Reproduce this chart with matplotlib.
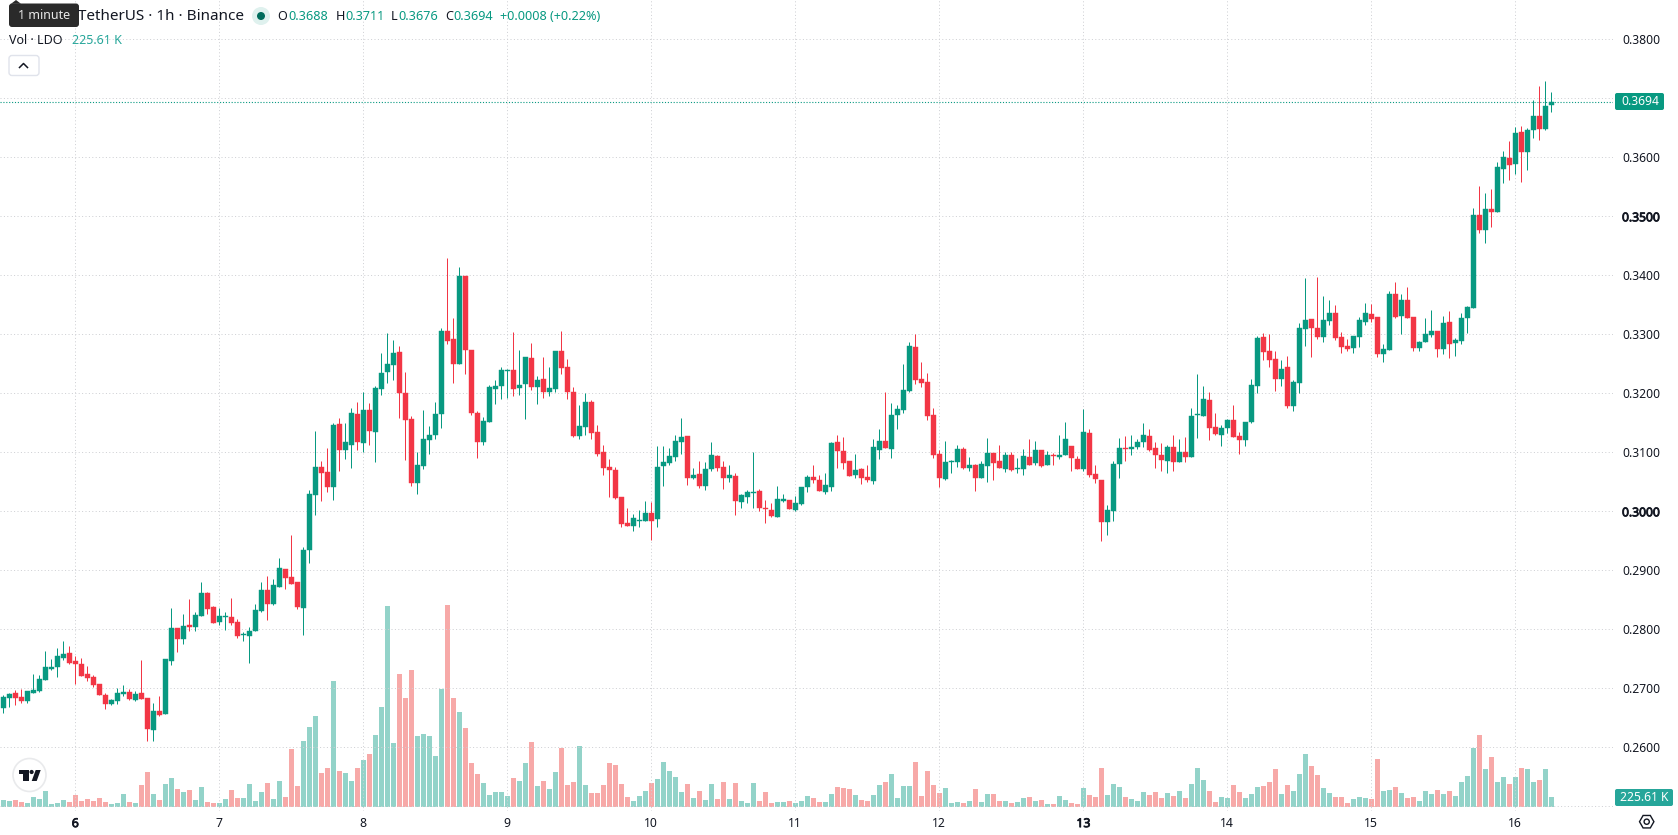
import matplotlib
matplotlib.use('Agg')
import matplotlib.pyplot as plt
import matplotlib.patheffects as pe
import numpy as np
from matplotlib.patches import Circle, FancyBboxPatch, Polygon, RegularPolygon

plt.rcParams['font.family'] = ['Noto Sans', 'DejaVu Sans']

# Hourly LDO/USDT candles, prices in ticks of 0.0001
open_ticks = [
    2667, 2684, 2692, 2685, 2679, 2692, 2695, 2714, 2733, 2736,
    2751, 2760, 2746, 2741, 2724, 2719, 2707, 2689, 2673, 2679,
    2690, 2694, 2680, 2692, 2684, 2629, 2662, 2657, 2746, 2802,
    2784, 2807, 2804, 2823, 2862, 2838, 2812, 2821, 2821, 2812,
    2790, 2789, 2797, 2831, 2867, 2843, 2872, 2902, 2889, 2880,
    2836, 2934, 3028, 3075, 3067, 3041, 3148, 3104, 3112, 3165,
    3116, 3172, 3134, 3207, 3236, 3248, 3270, 3201, 3157, 3048,
    3077, 3121, 3129, 3165, 3306, 3292, 3250, 3399, 3273, 3167,
    3118, 3151, 3207, 3212, 3238, 3240, 3209, 3216, 3260, 3211,
    3224, 3202, 3207, 3272, 3245, 3202, 3128, 3143, 3185, 3134,
    3101, 3075, 3070, 3024, 2980, 2975, 2984, 2984, 2997, 2987,
    3077, 3082, 3092, 3118, 3128, 3057, 3063, 3043, 3072, 3094,
    3075, 3057, 3060, 3016, 3024, 3031, 3035, 3006, 3002, 2990,
    3018, 3019, 3002, 3012, 3041, 3058, 3053, 3033, 3041, 3118,
    3102, 3085, 3062, 3072, 3058, 3051, 3104, 3119, 3106, 3163,
    3172, 3204, 3279, 3224, 3219, 3163, 3097, 3055, 3084, 3084,
    3106, 3073, 3079, 3057, 3077, 3099, 3085, 3072, 3095, 3072,
    3072, 3092, 3082, 3104, 3079, 3095, 3092, 3095, 3111, 3089,
    3072, 3133, 3063, 3053, 2982, 3001, 3080, 3107, 3106, 3109,
    3118, 3128, 3107, 3095, 3085, 3109, 3084, 3101, 3092, 3163,
    3162, 3189, 3143, 3129, 3141, 3155, 3128, 3121, 3151, 3212,
    3295, 3272, 3258, 3224, 3245, 3179, 3218, 3309, 3326, 3311,
    3295, 3323, 3336, 3295, 3280, 3277, 3295, 3321, 3334, 3329,
    3267, 3273, 3368, 3331, 3358, 3329, 3277, 3287, 3299, 3306,
    3275, 3321, 3285, 3289, 3328, 3345, 3502, 3477, 3512, 3507,
    3580, 3599, 3589, 3643, 3609, 3646, 3670, 3648, 3688,
]
high_ticks = [
    2689, 2692, 2697, 2699, 2695, 2724, 2723, 2763, 2750, 2768,
    2780, 2772, 2755, 2751, 2738, 2723, 2707, 2692, 2682, 2701,
    2706, 2699, 2695, 2748, 2684, 2675, 2687, 2750, 2836, 2802,
    2826, 2851, 2829, 2880, 2863, 2840, 2836, 2829, 2853, 2818,
    2796, 2804, 2843, 2880, 2890, 2885, 2921, 2902, 2960, 2880,
    2940, 3036, 3136, 3085, 3107, 3150, 3158, 3150, 3175, 3185,
    3202, 3184, 3212, 3268, 3302, 3290, 3280, 3236, 3162, 3101,
    3172, 3145, 3185, 3311, 3429, 3328, 3414, 3399, 3273, 3170,
    3160, 3214, 3223, 3245, 3242, 3304, 3273, 3262, 3285, 3229,
    3262, 3245, 3272, 3306, 3258, 3211, 3180, 3201, 3189, 3146,
    3112, 3089, 3075, 3024, 3006, 2996, 3002, 3018, 3016, 3111,
    3111, 3107, 3129, 3158, 3128, 3073, 3085, 3084, 3118, 3095,
    3085, 3079, 3065, 3029, 3036, 3101, 3038, 3019, 3014, 3043,
    3029, 3019, 3026, 3041, 3062, 3079, 3062, 3065, 3118, 3129,
    3126, 3085, 3097, 3073, 3079, 3123, 3140, 3202, 3184, 3180,
    3250, 3287, 3301, 3253, 3234, 3175, 3104, 3119, 3087, 3112,
    3109, 3092, 3080, 3085, 3124, 3099, 3112, 3101, 3101, 3090,
    3106, 3123, 3119, 3104, 3102, 3099, 3129, 3151, 3111, 3094,
    3173, 3140, 3079, 3053, 3011, 3085, 3124, 3128, 3129, 3123,
    3150, 3140, 3118, 3116, 3112, 3129, 3123, 3126, 3175, 3233,
    3212, 3202, 3167, 3146, 3156, 3180, 3134, 3151, 3224, 3297,
    3302, 3301, 3272, 3257, 3263, 3223, 3319, 3396, 3326, 3397,
    3365, 3358, 3350, 3304, 3292, 3297, 3329, 3353, 3351, 3329,
    3284, 3373, 3389, 3368, 3380, 3329, 3289, 3328, 3341, 3306,
    3331, 3340, 3294, 3336, 3348, 3514, 3551, 3540, 3546, 3592,
    3611, 3628, 3651, 3653, 3650, 3697, 3721, 3729, 3711,
]
low_ticks = [
    2658, 2668, 2672, 2675, 2675, 2692, 2694, 2714, 2731, 2719,
    2748, 2741, 2707, 2721, 2712, 2702, 2689, 2665, 2672, 2673,
    2687, 2680, 2679, 2682, 2611, 2611, 2653, 2657, 2740, 2762,
    2775, 2797, 2797, 2823, 2826, 2811, 2807, 2799, 2807, 2785,
    2780, 2743, 2797, 2829, 2816, 2841, 2872, 2868, 2877, 2834,
    2790, 2912, 2994, 3018, 3033, 3019, 3068, 3089, 3073, 3104,
    3101, 3112, 3084, 3197, 3218, 3223, 3158, 3087, 3043, 3029,
    3072, 3097, 3123, 3141, 3284, 3218, 3250, 3233, 3163, 3090,
    3112, 3151, 3182, 3190, 3192, 3195, 3197, 3157, 3206, 3182,
    3192, 3195, 3202, 3233, 3190, 3126, 3123, 3129, 3123, 3094,
    3062, 3024, 3021, 2973, 2975, 2967, 2973, 2984, 2951, 2973,
    3043, 3079, 3085, 3097, 3045, 3055, 3040, 3036, 3068, 3068,
    3038, 3050, 2994, 3006, 3014, 3006, 3001, 2980, 2990, 2990,
    3016, 3004, 3001, 3011, 3033, 3048, 3034, 3029, 3034, 3073,
    3072, 3060, 3057, 3046, 3050, 3046, 3089, 3107, 3090, 3140,
    3167, 3202, 3216, 3211, 3155, 3090, 3041, 3053, 3065, 3075,
    3072, 3068, 3034, 3057, 3050, 3053, 3073, 3067, 3068, 3065,
    3062, 3079, 3079, 3075, 3079, 3079, 3089, 3095, 3068, 3072,
    3068, 3058, 3048, 2950, 2960, 2984, 3057, 3085, 3095, 3106,
    3109, 3102, 3073, 3068, 3065, 3068, 3084, 3084, 3092, 3124,
    3162, 3121, 3129, 3111, 3133, 3126, 3097, 3111, 3150, 3201,
    3257, 3245, 3204, 3212, 3175, 3170, 3201, 3280, 3262, 3292,
    3287, 3316, 3290, 3268, 3272, 3268, 3279, 3316, 3321, 3262,
    3253, 3273, 3328, 3301, 3328, 3272, 3272, 3287, 3295, 3262,
    3267, 3260, 3263, 3284, 3302, 3345, 3472, 3455, 3482, 3507,
    3557, 3562, 3572, 3558, 3579, 3633, 3629, 3646, 3676,
]
close_ticks = [
    2685, 2690, 2684, 2679, 2695, 2697, 2716, 2736, 2736, 2755,
    2758, 2743, 2741, 2721, 2718, 2706, 2689, 2673, 2680, 2692,
    2694, 2682, 2690, 2682, 2631, 2662, 2655, 2750, 2802, 2784,
    2806, 2804, 2824, 2862, 2834, 2811, 2823, 2822, 2811, 2789,
    2792, 2797, 2833, 2867, 2843, 2875, 2904, 2887, 2877, 2838,
    2934, 3029, 3075, 3065, 3041, 3146, 3104, 3118, 3167, 3118,
    3172, 3136, 3209, 3234, 3250, 3268, 3201, 3155, 3048, 3079,
    3123, 3129, 3165, 3306, 3289, 3250, 3399, 3273, 3167, 3118,
    3153, 3211, 3212, 3240, 3240, 3207, 3214, 3262, 3211, 3223,
    3202, 3209, 3272, 3243, 3202, 3128, 3145, 3185, 3133, 3097,
    3073, 3070, 3023, 2979, 2975, 2989, 2985, 2997, 2984, 3075,
    3084, 3094, 3119, 3126, 3057, 3062, 3043, 3072, 3095, 3073,
    3057, 3062, 3018, 3028, 3033, 3033, 3006, 3004, 2992, 3021,
    3021, 3004, 3014, 3041, 3058, 3053, 3034, 3045, 3116, 3102,
    3082, 3060, 3070, 3057, 3053, 3109, 3119, 3107, 3163, 3173,
    3206, 3280, 3223, 3218, 3162, 3095, 3057, 3084, 3085, 3106,
    3073, 3079, 3057, 3080, 3099, 3082, 3073, 3095, 3070, 3073,
    3094, 3079, 3104, 3077, 3095, 3094, 3095, 3123, 3090, 3072,
    3134, 3062, 3055, 2982, 3002, 3080, 3107, 3106, 3109, 3118,
    3129, 3104, 3095, 3087, 3109, 3084, 3101, 3092, 3162, 3165,
    3190, 3141, 3131, 3141, 3155, 3126, 3121, 3151, 3214, 3294,
    3270, 3257, 3224, 3241, 3179, 3219, 3311, 3324, 3311, 3295,
    3324, 3336, 3294, 3279, 3275, 3297, 3324, 3336, 3326, 3267,
    3275, 3368, 3329, 3358, 3328, 3277, 3287, 3301, 3306, 3275,
    3319, 3284, 3290, 3328, 3346, 3502, 3477, 3512, 3507, 3584,
    3601, 3587, 3641, 3609, 3646, 3670, 3648, 3687, 3694,
]
# Volume in thousands of LDO
volume_k = [
    150, 128, 150, 105, 83, 218, 173, 353, 60, 83,
    150, 105, 263, 128, 173, 128, 196, 105, 60, 83,
    286, 105, 83, 489, 782, 286, 150, 511, 647, 399,
    331, 376, 150, 444, 105, 83, 83, 173, 376, 196,
    196, 511, 128, 331, 534, 173, 579, 218, 1301, 466,
    1481, 1797, 2045, 760, 872, 2835, 805, 760, 579, 872,
    1053, 1188, 1617, 2248, 4527, 1436, 2993, 2452, 3083, 1594,
    1639, 1594, 1143, 2655, 4550, 2452, 2136, 1775, 985, 737,
    534, 263, 331, 331, 241, 647, 579, 985, 1459, 466,
    579, 399, 782, 1324, 489, 556, 1369, 489, 308, 308,
    489, 985, 940, 511, 226, 135, 248, 361, 541, 632,
    1015, 812, 677, 338, 519, 203, 361, 158, 519, 180,
    564, 180, 541, 135, 90, 541, 135, 338, 90, 113,
    113, 135, 90, 135, 248, 203, 113, 113, 293, 451,
    429, 406, 271, 158, 135, 271, 496, 564, 744, 203,
    474, 474, 1015, 248, 812, 496, 316, 429, 90, 113,
    90, 135, 406, 113, 293, 293, 135, 135, 90, 113,
    203, 226, 135, 158, 68, 68, 248, 158, 90, 68,
    429, 271, 226, 880, 271, 519, 451, 226, 180, 135,
    338, 271, 338, 203, 316, 248, 361, 203, 519, 880,
    609, 361, 113, 226, 203, 496, 338, 203, 293, 451,
    474, 564, 857, 293, 496, 361, 744, 1196, 925, 722,
    429, 316, 226, 226, 90, 180, 226, 203, 180, 1083,
    361, 384, 451, 316, 203, 226, 135, 361, 293, 384,
    293, 361, 248, 564, 699, 1331, 1624, 857, 1128, 564,
    677, 519, 677, 880, 857, 564, 609, 857, 225.61,
]
day_labels = ['6', '7', '8', '9', '10', '11', '12', '13', '14', '15', '16']
day_first_candle = [12, 36, 60, 84, 108, 132, 156, 180, 204, 228, 252]
price_levels = [0.26, 0.27, 0.28, 0.29, 0.30, 0.31, 0.32, 0.33, 0.34, 0.35, 0.36, 0.37, 0.38]
bold_levels = [0.30, 0.35]
bold_days = ['6', '13']

UP = '#089981'
DOWN = '#F23645'
UP_VOL = '#93d3c9'
DOWN_VOL = '#f7a9a8'
GRID = '#cfd0d4'
INK = '#131722'
DOTS = (0, (1, 2.4))

# pixel layout of the chart pane
W, H = 1678, 835
PANE_RIGHT, PANE_BOTTOM = 1613, 811
CANDLE_STEP = 6.0
FIRST_CANDLE_X = 3.3
PX_PER_PRICE = 5900.0
Y_OF_026 = 747.3
VOL_BASE_Y = 806.7
K_PER_PX = 22.56

o = np.array(open_ticks) / 10000
h = np.array(high_ticks) / 10000
l = np.array(low_ticks) / 10000
c = np.array(close_ticks) / 10000
x = np.arange(len(o))
rising = c >= o
colors = np.where(rising, UP, DOWN)
heavy = [pe.withStroke(linewidth=0.6, foreground=INK)]

fig = plt.figure(figsize=(W / 100, H / 100), dpi=100, facecolor='white')
pane = [0, 1 - PANE_BOTTOM / H, PANE_RIGHT / W, PANE_BOTTOM / H]

# volume sits on its own scale underneath the candles
ax_vol = fig.add_axes(pane, zorder=1)
ax_vol.bar(x, volume_k, width=0.8, color=np.where(rising, UP_VOL, DOWN_VOL), linewidth=0)
ax_vol.set_xlim(-FIRST_CANDLE_X / CANDLE_STEP, (PANE_RIGHT - FIRST_CANDLE_X) / CANDLE_STEP)
ax_vol.set_ylim(-(PANE_BOTTOM - VOL_BASE_Y) * K_PER_PX, VOL_BASE_Y * K_PER_PX)
ax_vol.axis('off')

ax = fig.add_axes(pane, zorder=2)
ax.patch.set_visible(False)
ax.set_xlim(ax_vol.get_xlim())
ax.set_ylim(0.26 - (PANE_BOTTOM - Y_OF_026) / PX_PER_PRICE, 0.26 + Y_OF_026 / PX_PER_PRICE)

ax.set_axisbelow(True)
ax.grid(True, color=GRID, linewidth=0.72, linestyle=DOTS)
ax.axhline(0.25, color=GRID, linewidth=0.72, linestyle=DOTS)
ax.axhline(c[-1], color=UP, linewidth=0.8, linestyle=(0, (1, 1.6)), zorder=1.5)

ax.vlines(x, l, h, colors=colors, linewidth=0.72, zorder=3)
ax.bar(x, np.abs(c - o), bottom=np.minimum(o, c), width=0.8, color=colors,
       edgecolor=colors, linewidth=0.3, zorder=4)

for side in ax.spines.values():
    side.set_visible(False)
ax.set_xticks(day_first_candle)
ax.set_xticklabels(day_labels, fontsize=8.8, color=INK)
for lab, txt in zip(ax.get_xticklabels(), day_labels):
    if txt in bold_days:
        lab.set_path_effects(heavy)
ax.set_yticks(price_levels)
ax.set_yticklabels([f'{v:.4f}' for v in price_levels], fontsize=8.7, color=INK)
ax.yaxis.tick_right()
# the right-hand labels are label2 once tick_right has run
for tick, v in zip(ax.yaxis.get_major_ticks(), price_levels):
    if v in bold_levels:
        tick.label2.set_path_effects(heavy)
ax.tick_params(axis='both', length=0)
ax.tick_params(axis='x', pad=4.4)
ax.tick_params(axis='y', pad=6.5)

# header, tags and badges, placed in pixel coordinates
ui = fig.add_axes([0, 0, 1, 1], zorder=3)
ui.set_xlim(0, W)
ui.set_ylim(H, 0)
ui.axis('off')


def tag(x0, y0, x1, y1, color, radius=2.0):
    ui.add_patch(FancyBboxPatch((x0 + radius, y0 + radius), x1 - x0 - 2 * radius, y1 - y0 - 2 * radius,
                                boxstyle=f'round,pad={radius},rounding_size={radius}',
                                facecolor=color, edgecolor='none'))


ui.text(78, 16, 'TetherUS · 1h · Binance', fontsize=11.0, color=INK, va='center', ha='left')
ui.add_patch(Circle((261, 16), 9, facecolor='#dff1ee', edgecolor='none'))
ui.add_patch(Circle((261, 16), 4, facecolor='#006c5c', edgecolor='none'))

ohlc_header = [('O', '0.3688', 277.5), ('H', '0.3711', 335.5), ('L', '0.3676', 391), ('C', '0.3694', 445)]
for key, val, x0 in ohlc_header:
    t = ui.text(x0, 16, key, fontsize=9.1, color=INK, va='center', ha='left')
    ui.annotate(val, xy=(1, 0.5), xycoords=t, xytext=(0.5, 0), textcoords='offset points',
                fontsize=9.1, color=UP, va='center', ha='left')
ui.text(499.5, 16, '+0.0008 (+0.22%)', fontsize=9.1, color=UP, va='center', ha='left')

ui.text(9, 40.5, 'Vol · LDO', fontsize=9.0, color=INK, va='center', ha='left')
ui.text(72, 40.5, '225.61 K', fontsize=9.0, color='#26a69a', va='center', ha='left')

ui.add_patch(FancyBboxPatch((11, 57.5), 26, 16, boxstyle='round,pad=2,rounding_size=3',
                            facecolor='white', edgecolor='#e0e3eb', linewidth=1))
ui.plot([19.5, 23.5, 27.5], [67.5, 63.5, 67.5], color=INK, linewidth=1.1)

# tooltip over the symbol name
tag(9, 3.5, 79, 27, '#2a2a2a', radius=3)
ui.add_patch(Polygon([[11, 3.8], [16, 0], [21, 3.8]], facecolor='#2a2a2a', edgecolor='none'))
ui.text(44, 15.5, '1 minute', fontsize=9.0, color='#e8e8e8', va='center', ha='center')

# TradingView badge
ui.add_patch(Circle((29.5, 775), 16.5, facecolor='white', edgecolor='#e9eaec', linewidth=1.2))
ui.add_patch(Polygon([[19, 770], [29.3, 770], [29.3, 781], [23.3, 781], [23.3, 774.3], [19, 774.3]],
                     facecolor='#131722', edgecolor='none'))
ui.add_patch(Circle((31.6, 772), 2.1, facecolor='#131722', edgecolor='none'))
ui.add_patch(Polygon([[35.7, 770], [40.7, 770], [36.7, 781], [31.7, 781]],
                     facecolor='#131722', edgecolor='none'))

# price tags on the right scale
tag(1615, 93, 1664, 110, UP)
ui.text(1640, 101.3, f'{c[-1]:.4f}', fontsize=8.7, color='white', va='center', ha='center')
tag(1615, 789, 1673, 806, '#26a69a')
ui.text(1644, 797.3, f'{volume_k[-1]:.2f} K', fontsize=8.7, color='white', va='center', ha='center')

# settings cog
ui.add_patch(RegularPolygon((1646.7, 821.7), 6, radius=7.2, orientation=np.pi / 2,
                            facecolor='white', edgecolor=INK, linewidth=1.0))
ui.add_patch(Circle((1646.7, 821.7), 2.6, facecolor='white', edgecolor=INK, linewidth=1.0))

fig.savefig('out.png', dpi=100)
plt.close(fig)
